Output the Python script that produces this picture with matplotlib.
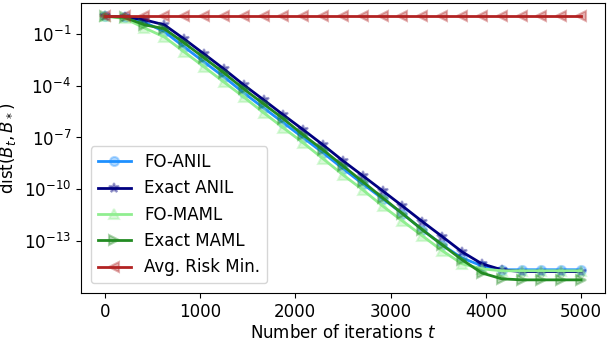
import numpy as np
import matplotlib
matplotlib.use("Agg")
import matplotlib.pyplot as plt
from matplotlib.colors import to_rgba
from matplotlib.ticker import NullLocator

# iterations at which the distance was recorded (25 checkpoints)
iters = [0, 208, 417, 625, 833, 1042, 1250, 1458, 1667, 1875, 2083, 2292, 2500,
         2708, 2917, 3125, 3333, 3542, 3750, 3958, 4167, 4375, 4583, 4792, 5000]

fo_anil = [1.0, 0.88, 0.45, 0.13, 1.7e-2, 2.3e-3, 3.2e-4, 3.8e-5, 5.1e-6, 7.1e-7,
           9.6e-8, 1.3e-8, 1.6e-9, 2.1e-10, 2.9e-11, 4.0e-12, 4.7e-13, 6.3e-14,
           1.1e-14, 3.9e-15, 2.3e-15, 2.3e-15, 2.3e-15, 2.3e-15, 2.3e-15]
exact_anil = [1.0, 0.92, 0.62, 0.32, 4.9e-2, 6.7e-3, 9.1e-4, 1.1e-4, 1.5e-5, 2.0e-6,
              2.8e-7, 3.7e-8, 4.5e-9, 6.2e-10, 8.3e-11, 1.1e-11, 1.4e-12, 1.9e-13,
              2.5e-14, 5.1e-15, 2.3e-15, 1.8e-15, 1.8e-15, 1.8e-15, 1.8e-15]
fo_maml = [1.0, 0.75, 0.21, 6.4e-2, 8.8e-3, 1.2e-3, 1.6e-4, 2.2e-5, 2.7e-6, 3.6e-7,
           4.9e-8, 5.9e-9, 7.0e-10, 9.5e-11, 1.1e-11, 1.5e-12, 2.1e-13, 2.9e-14,
           5.1e-15, 2.6e-15, 2.0e-15, 2.0e-15, 2.0e-15, 2.0e-15, 2.0e-15]
exact_maml = [1.0, 0.85, 0.32, 0.19, 2.9e-2, 4.0e-3, 5.4e-4, 6.4e-5, 8.7e-6, 1.2e-6,
              1.4e-7, 1.9e-8, 2.3e-9, 2.8e-10, 3.3e-11, 4.0e-12, 4.7e-13, 6.3e-14,
              8.7e-15, 1.5e-15, 6.9e-16, 6.0e-16, 6.0e-16, 6.0e-16, 6.0e-16]
avg_risk = [1.0] * 25

series = [
    ("FO-ANIL", fo_anil, "dodgerblue", "o", 6.5),
    ("Exact ANIL", exact_anil, "navy", "*", 7.5),
    ("FO-MAML", fo_maml, "lightgreen", "^", 7),
    ("Exact MAML", exact_maml, "forestgreen", ">", 7),
    ("Avg. Risk Min.", avg_risk, "firebrick", "<", 7),
]

plt.rcParams["font.size"] = 12
fig = plt.figure(figsize=(6.08, 3.38), dpi=100)
ax = fig.add_axes([0.133, 0.133, 0.862, 0.858])

for label, vals, col, mk, ms in series:
    ax.plot(iters, vals, color=col, marker=mk, markersize=ms, linewidth=2,
            markerfacecolor=to_rgba(col, 0.35), markeredgewidth=1.5, label=label)

ax.set_yscale("log")
ax.set_yticks([1e-1, 1e-4, 1e-7, 1e-10, 1e-13])
ax.yaxis.set_minor_locator(NullLocator())
ax.set_xticks([0, 1000, 2000, 3000, 4000, 5000])
ax.set_xlabel("Number of iterations $t$", labelpad=2)
ax.set_ylabel("dist$(B_t, B_*)$")
ax.legend(loc="lower left", borderaxespad=0.6)

fig.savefig("out.png", dpi=100)
